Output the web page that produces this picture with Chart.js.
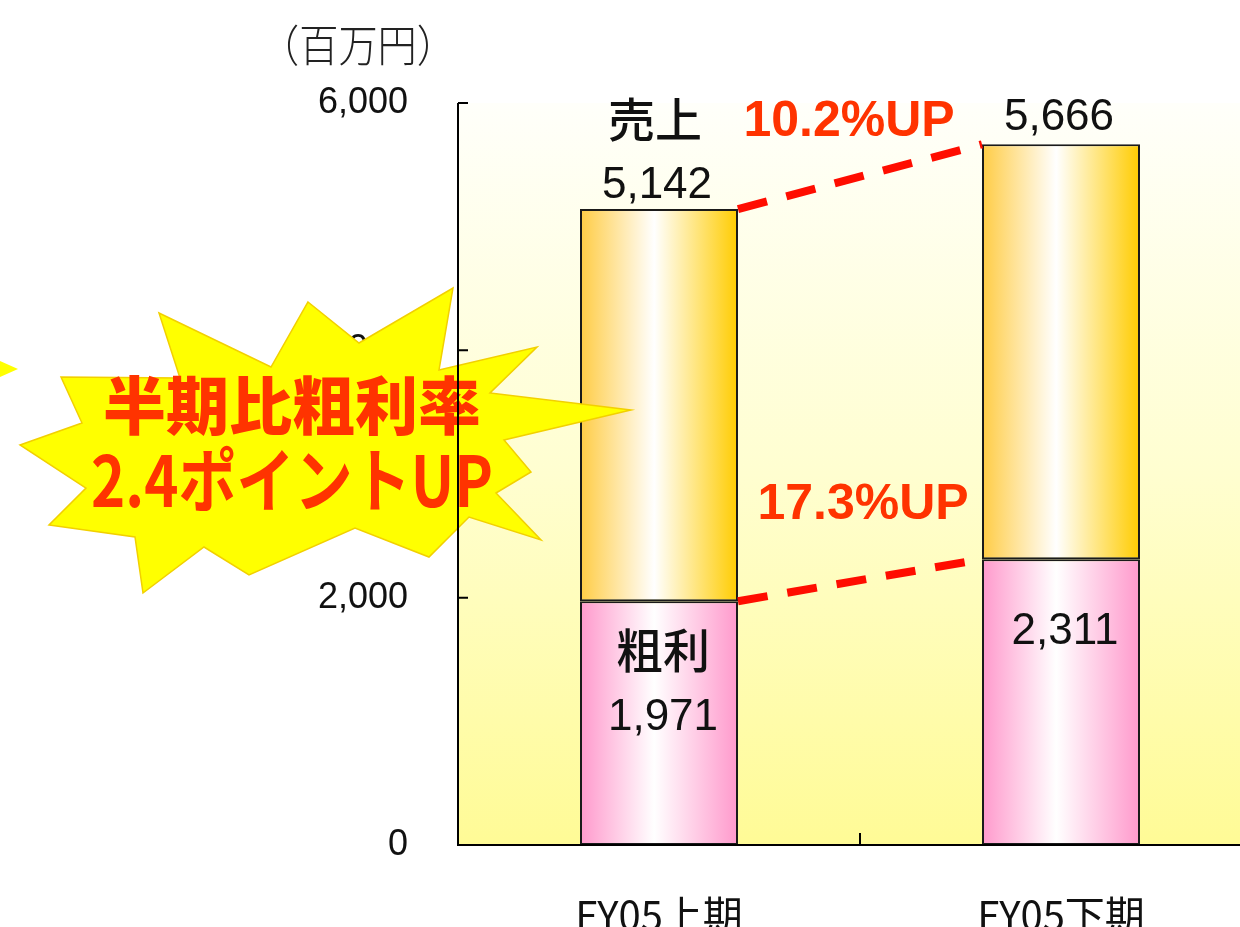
<!DOCTYPE html>
<html>
<head>
<meta charset="utf-8">
<script src="https://cdn.jsdelivr.net/npm/chart.js@4"></script>
<style>
  html, body { margin: 0; padding: 0; background: #fff; overflow: hidden; }
</style>
</head>
<body>
<canvas id="myChart" width="1270" height="927"></canvas>
<script>
const periods = ['FY05上期', 'FY05下期'];
const grossProfit = [1971, 2311];
const sales = [5142, 5666];
const yTicks = [0, 2000, 4000, 6000];
const growthLabels = ['10.2%UP', '17.3%UP'];

const BAR_PCT = 0.393;
const RED_TEXT = '#ff3300';
const JP = '"Noto Sans CJK JP", sans-serif';
const NUM = '"Liberation Sans", Arial, sans-serif';

// horizontal white-in-the-middle gradient for each bar
function barGradient(c, edgeL, edgeR) {
    const chart = c.chart;
    const xs = chart.scales.x;
    if (!xs || c.dataIndex === undefined) return edgeL;
    const cx = xs.getPixelForValue(c.dataIndex);
    const half = xs.width / periods.length * BAR_PCT / 2;
    if (!isFinite(cx) || !isFinite(half) || half <= 0) return edgeL;
    const g = chart.ctx.createLinearGradient(cx - half, 0, cx + half, 0);
    g.addColorStop(0, edgeL);
    g.addColorStop(0.47, '#ffffff');
    g.addColorStop(1, edgeR);
    return g;
}

function txt(ctx, s, x, y, font, color, maxW) {
    ctx.font = font;
    ctx.fillStyle = color;
    ctx.textAlign = 'center';
    ctx.textBaseline = 'middle';
    if (maxW) ctx.fillText(s, x, y, maxW); else ctx.fillText(s, x, y);
}

// starburst outline (decoration)
const burst = [
    [308, 302], [359, 343], [453, 288], [439, 370], [537, 347], [490, 393],
    [631, 410], [504, 440], [531, 472], [496, 493], [541, 540], [469, 517],
    [429, 557], [355, 528], [249, 575], [204, 547], [143, 593], [135, 537],
    [49, 525], [86, 488], [20, 445], [82, 423], [61, 377], [180, 378],
    [159, 313], [271, 367]
];

const decor = {
    id: 'decor',
    beforeDraw(chart) {
        const { ctx, chartArea: a } = chart;
        ctx.save();
        ctx.fillStyle = '#ffffff';
        ctx.fillRect(0, 0, chart.width, chart.height);
        const g = ctx.createLinearGradient(0, a.top, 0, a.bottom);
        g.addColorStop(0, '#fffffa');
        g.addColorStop(0.5, '#fffed0');
        g.addColorStop(1, '#fffb96');
        ctx.fillStyle = g;
        ctx.fillRect(a.left, a.top, a.right - a.left, a.bottom - a.top);
        ctx.restore();
    },
    afterDatasetsDraw(chart) {
        const { ctx, chartArea: a, scales: { x, y } } = chart;
        const half = x.width / periods.length * BAR_PCT / 2;
        const c0 = x.getPixelForValue(0), c1 = x.getPixelForValue(1);
        ctx.save();

        // dashed growth lines
        ctx.strokeStyle = '#ff0d00';
        ctx.lineWidth = 8;
        ctx.setLineDash([30, 20]);
        [sales, grossProfit].forEach((arr, k) => {
            const x0 = c0 + half, y0 = y.getPixelForValue(arr[0]);
            const x1 = c1 - half, y1 = y.getPixelForValue(arr[1]);
            ctx.beginPath();
            ctx.moveTo(x0, y0);
            ctx.lineTo(x1, y1);
            ctx.stroke();
            const mx = (x0 + x1) / 2, my = (y0 + y1) / 2;
            const off = k === 0 ? [-11, -54] : [3, -75];
            txt(ctx, growthLabels[k], mx + off[0], my + off[1], 'bold 50px ' + NUM, RED_TEXT, 218);
        });
        ctx.setLineDash([]);

        // value labels
        txt(ctx, '売上', c0 - 4, y.getPixelForValue(sales[0]) - 90, '500 47px ' + JP, '#111');
        txt(ctx, sales[0].toLocaleString('en-US'), c0 - 2, y.getPixelForValue(sales[0]) - 23, '44px ' + NUM, '#111', 123);
        txt(ctx, sales[1].toLocaleString('en-US'), c1 - 2, y.getPixelForValue(sales[1]) - 26, '44px ' + NUM, '#111', 120);
        txt(ctx, '粗利', c0 + 4, y.getPixelForValue(grossProfit[0]) + 49, '500 47px ' + JP, '#111');
        txt(ctx, grossProfit[0].toLocaleString('en-US'), c0 + 4, y.getPixelForValue(grossProfit[0]) + 117, '44px ' + NUM, '#111', 115);
        txt(ctx, grossProfit[1].toLocaleString('en-US'), c1 + 4, y.getPixelForValue(grossProfit[1]) + 73, '44px ' + NUM, '#111', 110);

        // unit
        txt(ctx, '（百万円）', 358, 45, '300 44px ' + JP, '#222', 196);

        // starburst
        ctx.beginPath();
        burst.forEach((p, i) => i ? ctx.lineTo(p[0], p[1]) : ctx.moveTo(p[0], p[1]));
        ctx.closePath();
        ctx.fillStyle = '#ffff00';
        ctx.fill();
        ctx.strokeStyle = '#f2d000';
        ctx.lineWidth = 1.5;
        ctx.stroke();
        ctx.beginPath();
        ctx.moveTo(0, 361); ctx.lineTo(18, 369); ctx.lineTo(0, 377); ctx.closePath();
        ctx.fill();
        txt(ctx, '半期比粗利率', 292, 405, '900 63px ' + JP, RED_TEXT, 378);
        txt(ctx, '2.4ポイントUP', 292, 480, '700 70px ' + JP, RED_TEXT, 402);

        // axis lines and inside ticks
        ctx.strokeStyle = '#000';
        ctx.lineWidth = 2;
        ctx.beginPath();
        ctx.moveTo(a.left, a.top);
        ctx.lineTo(a.left, a.bottom);
        ctx.lineTo(a.right, a.bottom);
        yTicks.slice(1).forEach(v => {
            const py = y.getPixelForValue(v);
            ctx.moveTo(a.left, py);
            ctx.lineTo(a.left + 10, py);
        });
        const mid = (c0 + c1) / 2;
        ctx.moveTo(mid, a.bottom);
        ctx.lineTo(mid, a.bottom - 12);
        ctx.stroke();
        ctx.restore();
    }
};

new Chart(document.getElementById('myChart'), {
    type: 'bar',
    data: {
        labels: periods,
        datasets: [{
            label: '粗利',
            data: grossProfit,
            backgroundColor: c => barGradient(c, '#ff99cc', '#ff99cc'),
            borderColor: '#1a1a1a',
            borderWidth: 2,
            borderSkipped: false
        }, {
            label: '売上',
            data: sales.map((v, i) => v - grossProfit[i]),
            backgroundColor: c => barGradient(c, '#ffcc44', '#ffcc00'),
            borderColor: '#1a1a1a',
            borderWidth: 2,
            borderSkipped: false
        }]
    },
    options: {
        responsive: false,
        animation: false,
        layout: { padding: { top: 103, right: 8, bottom: 0, left: 0 } },
        datasets: { bar: { categoryPercentage: 1, barPercentage: BAR_PCT } },
        plugins: {
            legend: { display: false },
            tooltip: { enabled: false }
        },
        scales: {
            x: {
                stacked: true,
                grid: { display: false },
                border: { display: false },
                ticks: {
                    color: '#111',
                    font: { family: JP, size: 40 },
                    padding: 38,
                    maxRotation: 0
                },
                afterFit: s => { s.height = 82; }
            },
            y: {
                stacked: true,
                min: 0,
                max: 6000,
                grid: { display: false, drawTicks: false },
                border: { display: false },
                afterBuildTicks: s => { s.ticks = yTicks.map(v => ({ value: v })); },
                ticks: {
                    color: '#111',
                    font: { family: NUM, size: 36 },
                    padding: 50,
                    callback: v => v.toLocaleString('en-US')
                },
                afterFit: s => { s.width = 458; }
            }
        }
    },
    plugins: [decor]
});
</script>
</body>
</html>
